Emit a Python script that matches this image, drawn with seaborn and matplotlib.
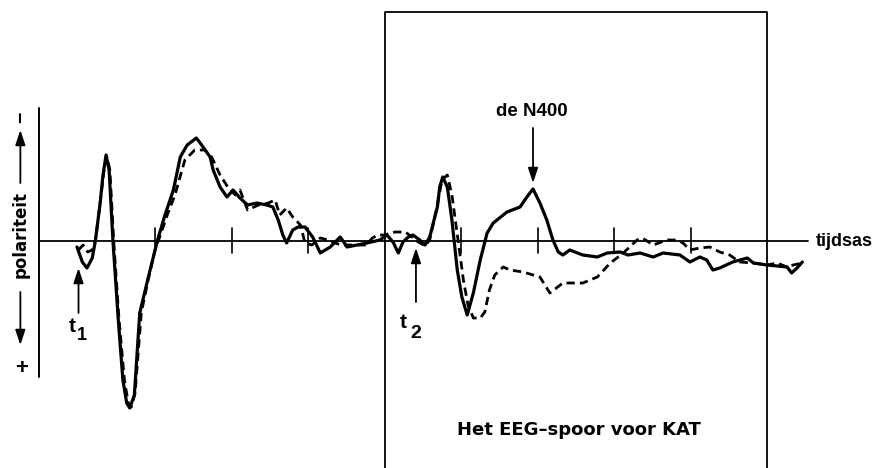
import numpy as np
import pandas as pd
import seaborn as sns
import matplotlib.pyplot as plt

# tijd in ms (0 = t1), amplitude in arbitrary units (negativiteit omhoog)
tijd_solid = [-2, 5, 11, 18, 22, 28, 32, 36, 40, 45, 52, 58, 63, 67, 73, 80, 91, 103, 113, 124,
              133, 142, 154, 159, 172, 176, 185, 194, 202, 211, 221, 233, 246, 254, 261, 267, 272,
              280, 287, 296, 306, 316, 329, 342, 351, 364, 377, 394, 403, 411, 418, 424, 431, 437,
              446, 453, 459, 469, 472, 476, 482, 488, 495, 501, 508, 516, 525, 534, 542, 560, 577,
              586, 594, 603, 612, 620, 627, 633, 642, 659, 678, 691, 708, 718, 734, 751, 764, 786,
              799, 812, 821, 829, 838, 855, 874, 882, 900, 926, 932, 939, 946]
amp_solid = [-0.6, -2.1, -2.7, -1.7, 0.0, 3.6, 6.6, 8.6, 7.1, 0.0, -7.9, -13.9, -16.2, -16.7, -15.4,
             -7.2, -3.7, 0.0, 2.6, 5.1, 8.4, 9.6, 10.3, 9.8, 8.4, 7.1, 5.4, 4.4, 5.1, 4.3, 3.6, 3.8,
             3.6, 3.4, 2.1, 0.6, -0.2, 1.1, 1.4, 1.4, 0.4, -1.2, -0.6, 0.4, -0.6, -0.4, -0.2, 0.1,
             0.6, -0.1, -1.2, -0.1, 0.4, 0.6, 0.1, -0.4, 0.4, 3.4, 5.4, 6.4, 5.4, 2.1, -2.9, -5.6,
             -7.4, -5.2, -1.9, 0.8, 1.8, 2.9, 3.4, 4.4, 5.2, 3.8, 2.1, 0.1, -1.1, -1.4, -0.9, -1.4,
             -1.6, -1.2, -1.1, -1.4, -1.2, -1.6, -1.2, -1.4, -2.1, -1.6, -1.9, -2.9, -2.7, -2.1,
             -1.7, -2.2, -2.4, -2.6, -3.2, -2.7, -2.1]

tijd_dashed = [0, 6, 12, 18, 22, 28, 33, 37, 41, 46, 53, 60, 65, 69, 74, 82, 91, 100, 107, 116,
               126, 139, 152, 165, 174, 185, 195, 205, 211, 221, 235, 248, 257, 263, 272, 280, 290,
               296, 305, 316, 326, 335, 344, 355, 365, 376, 384, 391, 399, 414, 427, 436, 444, 453,
               459, 469, 475, 482, 488, 496, 503, 509, 516, 525, 531, 537, 544, 555, 564, 581, 603,
               616, 633, 659, 678, 695, 712, 730, 737, 751, 769, 782, 790, 799, 812, 825, 838, 851,
               864, 882, 900, 913, 926, 934, 946]
amp_dashed = [-0.9, -0.4, -1.1, -0.9, 0.0, 3.6, 6.9, 8.4, 7.1, 0.0, -7.9, -13.9, -16.2, -16.6, -15.2,
              -7.2, -3.9, -0.9, 0.6, 2.6, 4.6, 8.1, 9.1, 9.1, 8.4, 6.6, 5.4, 4.6, 5.1, 3.1, 3.6, 3.8,
              4.1, 2.6, 3.3, 2.4, 1.6, -0.2, -0.4, 0.3, 0.1, -0.2, -0.4, -0.4, -0.4, -0.4, 0.3, 0.6,
              0.6, 0.9, 0.9, 0.4, -0.1, -0.5, 0.1, 3.6, 6.1, 6.6, 4.6, 0.1, -3.9, -6.4, -7.7, -7.7,
              -7.1, -4.9, -3.4, -2.6, -2.9, -3.1, -3.6, -5.2, -4.2, -4.2, -3.6, -2.2, -1.2, 0.1, 0.3,
              -0.4, 0.1, 0.1, -0.2, -0.9, -0.7, -0.6, -1.1, -1.4, -2.1, -2.2, -2.4, -2.2, -2.6, -2.4,
              -2.2]

tick_times = [100, 200, 300, 500, 600, 700, 800]

sns.set_style("white")
plt.rcParams['font.family'] = ['Liberation Sans', 'DejaVu Sans']
plt.rcParams['text.color'] = 'black'

df_solid = pd.DataFrame({'tijd': tijd_solid, 'amplitude': amp_solid})
df_dashed = pd.DataFrame({'tijd': tijd_dashed, 'amplitude': amp_dashed})

fig = plt.figure(figsize=(8.72, 4.68), dpi=100)
ax = fig.add_axes([0, 0, 1, 1])
ax.set_xlim(-102.6, 1037)
ax.set_ylim(-22.7, 24.1)
ax.axis('off')

sns.lineplot(data=df_solid, x='tijd', y='amplitude', color='black', lw=2.3,
             sort=False, estimator=None, ax=ax, solid_joinstyle='round')
sns.lineplot(data=df_dashed, x='tijd', y='amplitude', color='black', lw=2.0,
             sort=False, estimator=None, ax=ax)
ax.lines[-1].set_dashes((3.0, 1.8))

# assen
ax.plot([-52, -52], [13.3, -13.6], color='black', lw=1.4)
ax.plot([-52, 953], [0, 0], color='black', lw=1.3)
for t in tick_times:
    ax.plot([t, t], [1.3, -1.2], color='black', lw=1.2)
ax.text(963, 0, 'tijdsas', ha='left', va='center', fontsize=13, fontweight='bold')

# kader
ax.plot([400, 400, 900, 900], [-23, 22.9, 22.9, -23], color='black', lw=1.3, clip_on=False)
ax.text(654, -18.9, 'Het EEG\u2013spoor voor KAT', ha='center', va='center', fontsize=13,
        fontweight='bold', family=['DejaVu Sans'])

arrow = dict(arrowstyle='-|>,head_length=0.9,head_width=0.3', color='black', lw=1.3,
             mutation_scale=10, shrinkA=0, shrinkB=0)

# N400
ax.annotate('', xy=(594, 5.8), xytext=(594, 11.3), arrowprops=arrow)
ax.text(593, 12.9, 'de N400', ha='center', va='center', fontsize=13.5, fontweight='bold')

# t1 en t2
ax.annotate('', xy=(0, -2.7), xytext=(0, -7.2), arrowprops=arrow)
ax.text(-8, -8.5, 't', ha='center', va='center', fontsize=15, fontweight='bold')
ax.text(5, -9.4, '1', ha='center', va='center', fontsize=13, fontweight='bold')
ax.annotate('', xy=(441, -0.7), xytext=(441, -6.1), arrowprops=arrow)
ax.text(424, -8.1, 't', ha='center', va='center', fontsize=15, fontweight='bold')
ax.text(441, -9.2, '2', ha='center', va='center', fontsize=14, fontweight='bold')

# polariteit
ax.text(-74, 12.4, '\u2212', ha='center', va='center', fontsize=14, fontweight='bold', rotation=90)
ax.text(-74, -12.7, '+', ha='center', va='center', fontsize=16, fontweight='bold')
ax.text(-75, 0.6, 'polariteit', ha='center', va='center', fontsize=12, fontweight='bold',
        rotation=90, family=['DejaVu Sans'])
ax.annotate('', xy=(-76, 11.1), xytext=(-76, 5.8), arrowprops=arrow)
ax.annotate('', xy=(-76, -10.4), xytext=(-76, -5.1), arrowprops=arrow)

fig.savefig('out.png', dpi=100)
